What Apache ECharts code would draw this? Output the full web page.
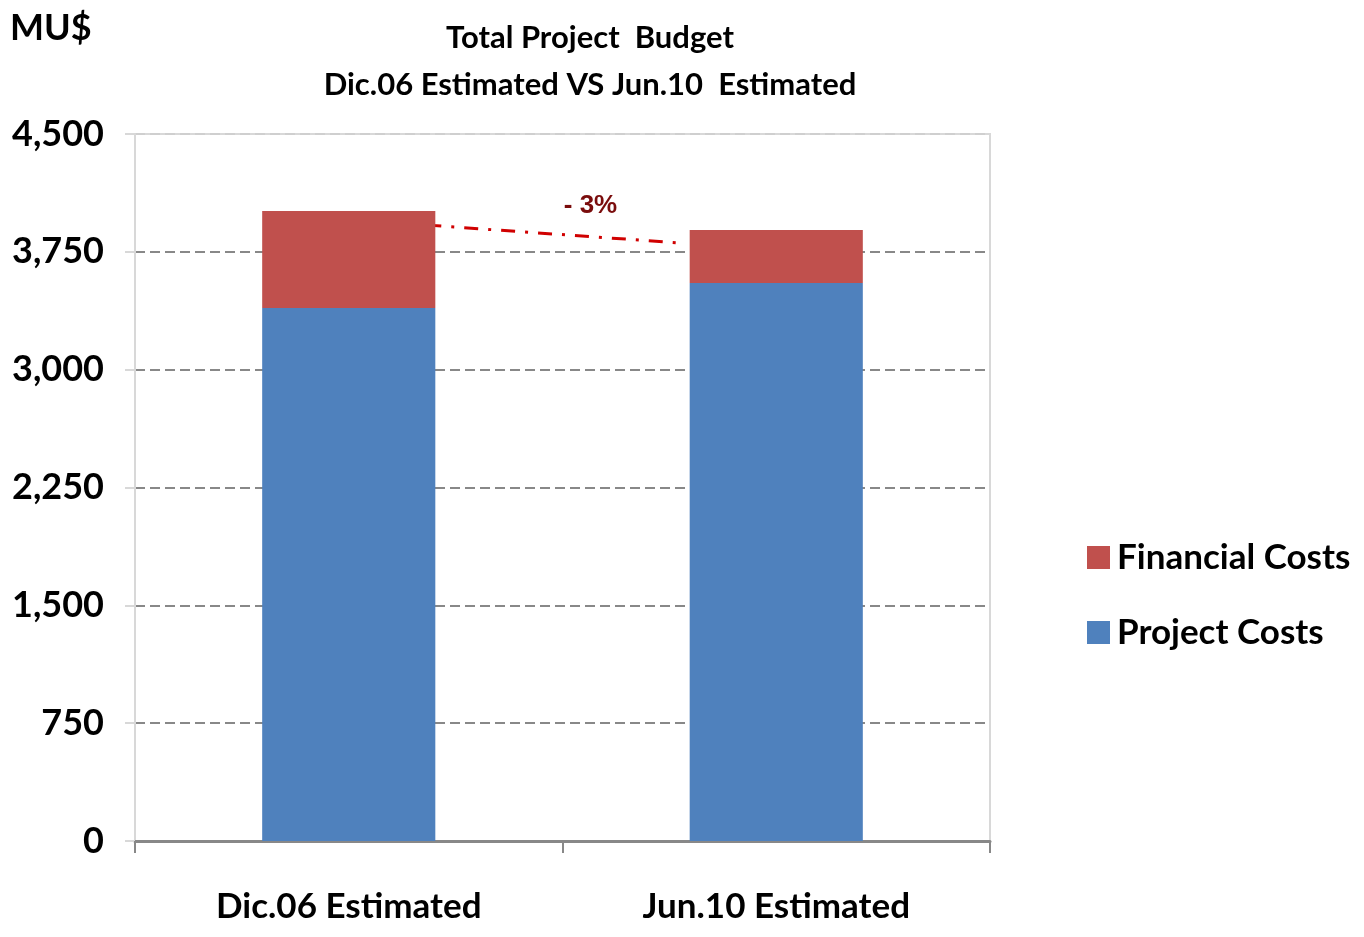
<!DOCTYPE html>
<html>
<head>
<meta charset="utf-8">
<script src="https://cdn.jsdelivr.net/npm/echarts@6/dist/echarts.min.js"></script>
<style>
  html, body { margin: 0; padding: 0; background: #fff; }
  #main { width: 1364px; height: 937px; }
</style>
</head>
<body>
<div id="main"></div>
<script>
  // data
  const categories = ['Dic.06 Estimated', 'Jun.10 Estimated']
  const projectCosts = [3392, 3552]
  const financialCosts = [618, 337]
  const yTicks = [0, 750, 1500, 2250, 3000, 3750, 4500]
  // dash-dot annotation between the two bars (start value, end value) and its label
  const trendLine = [3920, 3805]
  const trendLabel = '- 3%'

  const FONT = 'Lato, "Open Sans", sans-serif'
  const chart = echarts.init(document.getElementById('main'))

  const option = {
    animation: false,
    title: {
      text: 'Total Project  Budget\nDic.06 Estimated VS Jun.10  Estimated',
      left: 585,
      top: 9,
      textAlign: 'center',
      textStyle: {
        fontFamily: FONT, fontSize: 31, fontWeight: 'bold', color: '#000', lineHeight: 47
      }
    },
    legend: {
      orient: 'vertical',
      left: 1082,
      top: 535,
      itemWidth: 23,
      itemHeight: 23,
      itemGap: 40,
      icon: 'rect',
      data: ['Financial Costs', 'Project Costs'],
      textStyle: { fontFamily: FONT, fontSize: 35, fontWeight: 'bold', color: '#000', padding: [0, 0, 0, 2] }
    },
    grid: {
      left: 135, right: 374, top: 134, bottom: 96,
      show: true, borderColor: '#d8d8d8', borderWidth: 2
    },
    xAxis: {
      type: 'category',
      data: categories,
      axisLine: { lineStyle: { color: '#888', width: 3 } },
      axisTick: { show: true, length: 12, lineStyle: { color: '#888', width: 2 } },
      axisLabel: { fontFamily: FONT, fontSize: 35, fontWeight: 'bold', color: '#000', margin: 48 }
    },
    yAxis: {
      type: 'value',
      min: 0, max: 4500, interval: 750,
      axisLine: { show: true, lineStyle: { color: '#d8d8d8', width: 2 } },
      axisTick: { show: true, length: 10, lineStyle: { color: '#d8d8d8', width: 2 } },
      axisLabel: {
        fontFamily: FONT, fontSize: 36, fontWeight: 'bold', color: '#000', margin: 31,
        formatter: v => yTicks.indexOf(v) >= 0 ? v.toLocaleString('en-US') : ''
      },
      splitLine: {
        lineStyle: {
          color: ['#888', '#888', '#888', '#888', '#888', '#888', '#cfcfcf'],
          width: 2, type: [10, 5]
        }
      }
    },
    series: [
      {
        name: 'Project Costs',
        type: 'bar',
        stack: 'total',
        barWidth: '40.5%',
        itemStyle: { color: '#4F81BD' },
        data: projectCosts
      },
      {
        name: 'Financial Costs',
        type: 'bar',
        stack: 'total',
        itemStyle: { color: '#C0504D' },
        data: financialCosts
      }
    ]
  }
  chart.setOption(option)

  // the dash-dot "- 3%" line runs from the right edge of bar 1 to the left edge of bar 2
  const bandW = (1364 - 135 - 374) / categories.length
  const halfBar = bandW * 0.405 / 2
  const p1 = chart.convertToPixel({ gridIndex: 0 }, [0, trendLine[0]])
  const p2 = chart.convertToPixel({ gridIndex: 0 }, [1, trendLine[1]])
  const x1 = p1[0] + halfBar - 8, x2 = p2[0] - halfBar - 6
  chart.setOption({
    graphic: [
      {
        type: 'text',
        left: 10, top: 10,
        style: { text: 'MU$', font: 'bold 36px ' + FONT, fill: '#000' }
      },
      {
        type: 'line',
        shape: { x1: x1, y1: p1[1], x2: x2, y2: p2[1] },
        style: { stroke: '#d00000', lineWidth: 3, lineDash: [14, 10, 3, 10] }
      },
      {
        type: 'text',
        x: (x1 + x2) / 2 + 35, y: 206,
        style: {
          text: trendLabel, font: 'bold 26px Arial, "Liberation Sans", sans-serif',
          fill: '#7a0c0c', align: 'center', verticalAlign: 'middle'
        }
      }
    ]
  })
</script>
</body>
</html>
